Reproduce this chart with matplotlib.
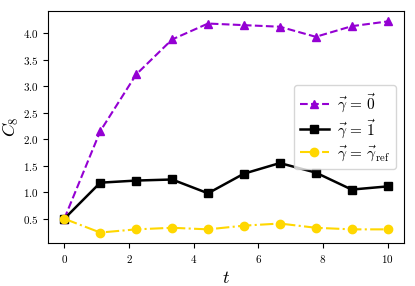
import numpy as np
import matplotlib
matplotlib.use("Agg")
import matplotlib.pyplot as plt

plt.rcParams['font.family'] = 'serif'
plt.rcParams['font.serif'] = ['cmr10', 'DejaVu Serif']
plt.rcParams['mathtext.fontset'] = 'cm'
plt.rcParams['axes.formatter.use_mathtext'] = True

t = [0, 10/9, 20/9, 30/9, 40/9, 50/9, 60/9, 70/9, 80/9, 10]
c_zero = [0.5, 2.15, 3.22, 3.88, 4.18, 4.15, 4.12, 3.93, 4.13, 4.22]
c_one = [0.5, 1.18, 1.22, 1.24, 0.98, 1.35, 1.55, 1.37, 1.05, 1.11]
c_ref = [0.5, 0.24, 0.30, 0.33, 0.30, 0.37, 0.41, 0.33, 0.30, 0.30]

fig = plt.figure(figsize=(4.15, 2.86), dpi=100)
ax = fig.add_axes([0.116, 0.150, 0.857, 0.812])

ax.plot(t, c_zero, '--', marker='^', color='#9400D3', lw=1.5, ms=6, label=r'$\vec{\gamma}\,=\,\vec{0}$')
ax.plot(t, c_one, '-', marker='s', color='black', lw=1.8, ms=6, label=r'$\vec{\gamma}\,=\,\vec{1}$')
ax.plot(t, c_ref, '-.', marker='o', color='#FFD700', lw=1.5, ms=6, label=r'$\vec{\gamma}\,=\,\vec{\gamma}_{\mathrm{ref}}$')

ax.set_xlabel(r'$t$', fontsize=13)
ax.set_ylabel(r'$C_8$', fontsize=13, labelpad=1)
ax.tick_params(labelsize=8)
ax.set_yticks([0.5, 1.0, 1.5, 2.0, 2.5, 3.0, 3.5, 4.0])
ax.set_xticks([0, 2, 4, 6, 8, 10])
ax.legend(loc='center right', fontsize=11, labelspacing=0.2, handlelength=1.9, handletextpad=0.55)

fig.savefig('out.png', dpi=100)
